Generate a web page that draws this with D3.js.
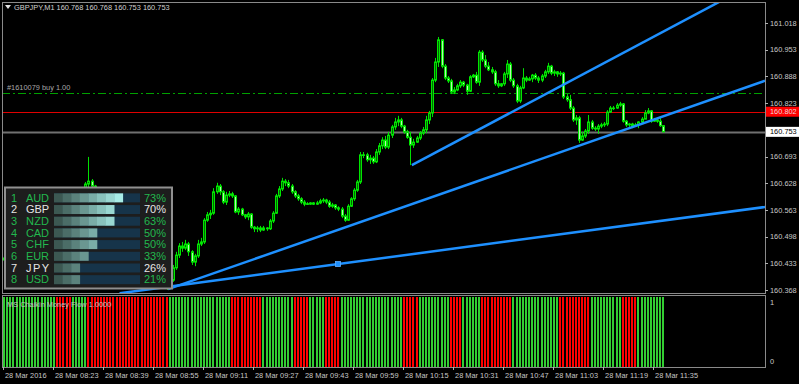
<!DOCTYPE html>
<html>
<head>
<meta charset="utf-8">
<script src="https://cdnjs.cloudflare.com/ajax/libs/d3/7.8.5/d3.min.js"></script>
<style>
  html, body { margin: 0; padding: 0; background: #000; overflow: hidden; }
  svg { display: block; }
  text { font-family: "Liberation Sans", Arial, sans-serif; }
</style>
</head>
<body>
<svg id="chart" width="799" height="384"></svg>
<script>
// ---- data (GBPJPY M1, 28 Mar 2016) ----
var open = [
  160.441,160.446,160.453,160.461,160.456,160.468,160.475,160.470,160.482,160.490,
  160.497,160.492,160.507,160.517,160.512,160.524,160.534,160.543,160.534,160.521,
  160.529,160.517,160.524,160.541,160.558,160.575,160.592,160.626,160.633,160.621,
  160.597,160.580,160.587,160.568,160.553,160.560,160.541,160.524,160.531,160.512,
  160.497,160.504,160.485,160.468,160.475,160.456,160.441,160.448,160.429,160.412,
  160.419,160.397,160.383,160.375,160.392,160.422,160.453,160.475,160.470,160.480,
  160.461,160.436,160.451,160.480,160.485,160.538,160.551,160.555,160.607,160.621,
  160.607,160.582,160.599,160.602,160.597,160.558,160.565,160.551,160.546,160.553,
  160.521,160.517,160.519,160.514,160.519,160.517,160.536,160.555,160.597,160.614,
  160.633,160.629,160.621,160.607,160.597,160.590,160.582,160.578,160.577,160.580,
  160.577,160.580,160.585,160.587,160.582,160.572,160.575,160.568,160.565,160.548,
  160.538,160.572,160.590,160.611,160.631,160.697,160.697,160.685,160.689,160.680,
  160.704,160.719,160.733,160.716,160.745,160.765,160.777,160.782,160.767,160.753,
  160.740,160.721,160.728,160.738,160.750,160.758,160.782,160.799,160.879,160.923,
  160.977,160.913,160.884,160.877,160.850,160.855,160.865,160.874,160.867,160.852,
  160.887,160.891,160.874,160.947,160.928,160.913,160.904,160.899,160.870,160.865,
  160.870,160.894,160.918,160.879,160.865,160.828,160.860,160.884,160.879,160.882,
  160.891,160.884,160.879,160.889,160.899,160.913,160.896,160.899,160.894,160.896,
  160.838,160.831,160.811,160.782,160.787,160.733,160.743,160.755,160.777,160.762,
  160.760,160.767,160.770,160.772,160.801,160.811,160.811,160.818,160.821,160.779,
  160.770,160.772,160.767,160.770,160.777,160.784,160.799,160.804,160.779,160.782,
  160.779,160.768
];
var high = [
  160.453,160.456,160.465,160.465,160.473,160.480,160.480,160.487,160.495,160.502,
  160.502,160.512,160.521,160.521,160.529,160.538,160.548,160.548,160.538,160.534,
  160.534,160.529,160.546,160.563,160.580,160.597,160.631,160.692,160.638,160.624,
  160.602,160.592,160.590,160.572,160.565,160.563,160.546,160.536,160.534,160.517,
  160.509,160.507,160.490,160.480,160.478,160.461,160.453,160.451,160.434,160.424,
  160.422,160.402,160.388,160.397,160.429,160.461,160.482,160.485,160.490,160.485,
  160.465,160.456,160.490,160.495,160.543,160.558,160.563,160.616,160.629,160.626,
  160.611,160.607,160.609,160.607,160.599,160.570,160.568,160.553,160.558,160.555,
  160.524,160.524,160.524,160.524,160.521,160.541,160.560,160.602,160.621,160.641,
  160.638,160.636,160.626,160.611,160.602,160.594,160.587,160.582,160.582,160.582,
  160.585,160.590,160.592,160.590,160.587,160.580,160.577,160.572,160.570,160.553,
  160.577,160.594,160.616,160.636,160.704,160.704,160.702,160.697,160.694,160.711,
  160.726,160.740,160.743,160.753,160.770,160.787,160.792,160.787,160.770,160.758,
  160.753,160.736,160.743,160.755,160.765,160.792,160.804,160.884,160.933,160.984,
  160.979,160.918,160.889,160.882,160.862,160.870,160.879,160.877,160.870,160.891,
  160.894,160.899,160.952,160.952,160.940,160.923,160.911,160.904,160.879,160.872,
  160.899,160.928,160.923,160.884,160.870,160.865,160.908,160.889,160.887,160.894,
  160.896,160.889,160.894,160.904,160.921,160.916,160.904,160.901,160.901,160.899,
  160.845,160.843,160.816,160.794,160.792,160.753,160.760,160.794,160.782,160.767,
  160.772,160.775,160.777,160.806,160.816,160.816,160.823,160.826,160.823,160.782,
  160.775,160.775,160.775,160.779,160.789,160.806,160.811,160.806,160.787,160.787,
  160.787,160.768
];
var low = [
  160.436,160.441,160.448,160.451,160.453,160.463,160.465,160.468,160.478,160.485,
  160.487,160.490,160.502,160.507,160.509,160.519,160.529,160.529,160.517,160.519,
  160.512,160.512,160.521,160.538,160.555,160.570,160.590,160.616,160.607,160.592,
  160.577,160.575,160.563,160.548,160.551,160.536,160.519,160.521,160.507,160.492,
  160.495,160.480,160.463,160.465,160.451,160.436,160.439,160.424,160.407,160.409,
  160.392,160.378,160.368,160.371,160.388,160.417,160.446,160.461,160.465,160.451,
  160.429,160.426,160.446,160.475,160.480,160.534,160.541,160.551,160.602,160.599,
  160.577,160.575,160.594,160.592,160.555,160.551,160.548,160.541,160.538,160.517,
  160.509,160.509,160.509,160.512,160.512,160.514,160.531,160.553,160.592,160.609,
  160.621,160.616,160.602,160.592,160.585,160.577,160.572,160.575,160.575,160.575,
  160.575,160.577,160.580,160.577,160.568,160.568,160.563,160.560,160.543,160.534,
  160.536,160.570,160.585,160.607,160.626,160.689,160.680,160.675,160.675,160.677,
  160.697,160.711,160.711,160.711,160.738,160.758,160.767,160.762,160.748,160.736,
  160.672,160.714,160.726,160.733,160.745,160.750,160.772,160.789,160.874,160.911,
  160.908,160.879,160.872,160.845,160.845,160.852,160.860,160.862,160.843,160.850,
  160.884,160.870,160.865,160.923,160.908,160.901,160.894,160.865,160.860,160.862,
  160.865,160.884,160.874,160.860,160.823,160.823,160.857,160.874,160.877,160.874,
  160.879,160.872,160.874,160.884,160.894,160.891,160.889,160.887,160.889,160.833,
  160.826,160.806,160.777,160.770,160.726,160.731,160.738,160.748,160.758,160.755,
  160.748,160.762,160.765,160.767,160.799,160.806,160.809,160.814,160.775,160.765,
  160.765,160.762,160.765,160.762,160.772,160.784,160.796,160.775,160.777,160.775,
  160.765,160.753
];
var close = [
  160.446,160.453,160.461,160.456,160.468,160.475,160.470,160.482,160.490,160.497,
  160.492,160.507,160.517,160.512,160.524,160.534,160.543,160.534,160.521,160.529,
  160.517,160.524,160.541,160.558,160.575,160.592,160.626,160.633,160.621,160.597,
  160.580,160.587,160.568,160.553,160.560,160.541,160.524,160.531,160.512,160.497,
  160.504,160.485,160.468,160.475,160.456,160.441,160.448,160.429,160.412,160.419,
  160.397,160.383,160.375,160.392,160.422,160.453,160.475,160.470,160.480,160.461,
  160.436,160.451,160.480,160.485,160.538,160.551,160.555,160.607,160.621,160.607,
  160.582,160.599,160.602,160.597,160.558,160.565,160.551,160.546,160.553,160.521,
  160.517,160.519,160.514,160.519,160.517,160.536,160.555,160.597,160.614,160.633,
  160.629,160.621,160.607,160.597,160.590,160.582,160.577,160.577,160.580,160.577,
  160.580,160.585,160.587,160.582,160.572,160.575,160.568,160.565,160.548,160.538,
  160.572,160.590,160.611,160.631,160.697,160.696,160.685,160.689,160.680,160.704,
  160.719,160.733,160.716,160.745,160.765,160.777,160.782,160.767,160.753,160.740,
  160.721,160.728,160.738,160.750,160.758,160.782,160.799,160.879,160.923,160.977,
  160.913,160.884,160.877,160.850,160.855,160.865,160.874,160.867,160.852,160.887,
  160.891,160.874,160.947,160.928,160.913,160.904,160.899,160.870,160.865,160.870,
  160.894,160.918,160.879,160.865,160.828,160.860,160.884,160.879,160.882,160.891,
  160.884,160.879,160.889,160.899,160.913,160.896,160.899,160.894,160.896,160.838,
  160.831,160.811,160.782,160.787,160.733,160.743,160.755,160.777,160.762,160.760,
  160.767,160.770,160.772,160.801,160.811,160.810,160.818,160.821,160.779,160.770,
  160.772,160.767,160.770,160.777,160.784,160.799,160.804,160.779,160.782,160.779,
  160.768,160.753
];

// Chaikin money flow histogram: run lengths of alternating sign, first run positive
var cmfRuns = [17, 5, 5, 26, 20, 10, 10, 5, 5, 5, 20, 5, 10, 4, 6, 10, 15, 10, 10, 5, 9];

var priceTicks = [161.018, 160.953, 160.888, 160.823, 160.693, 160.628, 160.563, 160.498, 160.433, 160.368];
var timeLabels = ["28 Mar 2016", "28 Mar 08:23", "28 Mar 08:39", "28 Mar 08:55", "28 Mar 09:11",
                  "28 Mar 09:27", "28 Mar 09:43", "28 Mar 09:59", "28 Mar 10:15", "28 Mar 10:31",
                  "28 Mar 10:47", "28 Mar 11:03", "28 Mar 11:19", "28 Mar 11:35"];
var timeLabelBars = [0, 16, 32, 48, 64, 80, 96, 112, 128, 144, 160, 176, 192, 208];

var buyLevel = 160.848, buyText = "#1610079 buy 1.00";
var redLevel = 160.802;
var bidLevel = 160.753;

// trend lines (bar index, price), extended to the right as rays
var trendLines = [
  {b1: 130.5, p1: 160.672, b2: 180, p2: 160.872},
  {b1: 52.5, p1: 160.370, b2: 211, p2: 160.791},
  {b1: 37, p1: 160.360, b2: 211, p2: 160.537}
];
var trendMarker = {line: 2, bar: 106.9};

var currencies = ["AUD", "GBP", "NZD", "CAD", "CHF", "EUR", "JPY", "USD"];
var strength = [73, 70, 63, 50, 50, 33, 26, 21];
var pairCurrencies = ["GBP", "JPY"];

// ---- layout ----
var W = 799, H = 384;
var left = 2, right = 765, mainTop = 2, mainBottom = 293, indTop = 295, indBottom = 367;

var svg = d3.select("#chart");
svg.append("rect").attr("width", W).attr("height", H).attr("fill", "#000");

var x = d3.scaleLinear().domain([0, 211]).range([4, 663.4]);
var y = d3.scaleLinear().domain([160.3607, 161.0667]).range([mainBottom, 3]);
var yInd = d3.scaleLinear().domain([0, 1]).range([indBottom, 297]);

var defs = svg.append("defs");
defs.append("clipPath").attr("id", "clipMain").append("rect")
  .attr("x", left).attr("y", mainTop).attr("width", right - left).attr("height", mainBottom - mainTop);

var bars = open.map(function (o, i) {
  return {i: i, o: o, h: high[i], l: low[i], c: close[i]};
});

// ---- indicator histogram ----
var cmf = [];
cmfRuns.forEach(function (len, k) {
  for (var j = 0; j < len; j++) cmf.push(k % 2 === 0 ? 1 : -1);
});
svg.append("g").selectAll("rect").data(cmf).join("rect")
  .attr("x", function (d, i) { return Math.round(x(i)) - 1; })
  .attr("y", yInd(1))
  .attr("width", 2)
  .attr("height", yInd(0) - yInd(1))
  .attr("fill", function (d) { return d > 0 ? "#32cd32" : "#ff0000"; });

// ---- candles ----
var cg = svg.append("g").attr("clip-path", "url(#clipMain)");

// horizontal levels
cg.append("line").attr("x1", left).attr("x2", right)
  .attr("y1", Math.round(y(bidLevel)) + 0.5).attr("y2", Math.round(y(bidLevel)) + 0.5)
  .attr("stroke", "#707070").attr("stroke-width", 2);
cg.append("line").attr("x1", left).attr("x2", right)
  .attr("y1", Math.round(y(redLevel)) + 0.5).attr("y2", Math.round(y(redLevel)) + 0.5)
  .attr("stroke", "#e00000").attr("stroke-width", 1);
cg.append("line").attr("x1", left).attr("x2", right)
  .attr("y1", Math.round(y(buyLevel)) + 0.5).attr("y2", Math.round(y(buyLevel)) + 0.5)
  .attr("stroke", "#00a000").attr("stroke-width", 1)
  .attr("stroke-dasharray", "8,3,2,3");

cg.selectAll(".wick").data(bars).join("line")
  .attr("class", "wick")
  .attr("x1", function (d) { return Math.round(x(d.i)) + 0.5; })
  .attr("x2", function (d) { return Math.round(x(d.i)) + 0.5; })
  .attr("y1", function (d) { return y(d.h); })
  .attr("y2", function (d) { return y(d.l); })
  .attr("stroke", "#00e000").attr("stroke-width", 1);

cg.selectAll(".body").data(bars).join("rect")
  .attr("class", "body")
  .attr("x", function (d) { return Math.round(x(d.i)) - 0.5; })
  .attr("y", function (d) { return Math.min(y(d.o), y(d.c)); })
  .attr("width", 2)
  .attr("height", function (d) { return Math.max(Math.abs(y(d.o) - y(d.c)), 0.6); })
  .attr("fill", function (d) { return d.c >= d.o ? "#006a00" : "#b8f5b0"; })
  .attr("stroke", "#00e600").attr("stroke-width", 1);

// trend lines
trendLines.forEach(function (t) {
  var x1 = x(t.b1), y1 = y(t.p1), x2 = x(t.b2), y2 = y(t.p2);
  var slope = (y2 - y1) / (x2 - x1);
  cg.append("line")
    .attr("x1", x1).attr("y1", y1)
    .attr("x2", right).attr("y2", y1 + slope * (right - x1))
    .attr("stroke", "#1e90ff").attr("stroke-width", 2.5);
});
(function () {
  var t = trendLines[trendMarker.line];
  var p = t.p1 + (t.p2 - t.p1) * (trendMarker.bar - t.b1) / (t.b2 - t.b1);
  cg.append("rect")
    .attr("x", x(trendMarker.bar) - 2.5).attr("y", y(p) - 2.5)
    .attr("width", 5).attr("height", 5)
    .attr("fill", "#1e90ff").attr("stroke", "#5fb0ff").attr("stroke-width", 0.8);
})();

// ---- frames ----
var frame = svg.append("g").attr("stroke", "#8a8a8a").attr("stroke-width", 1).attr("fill", "none");
frame.append("rect").attr("x", left + 0.5).attr("y", mainTop + 0.5)
  .attr("width", right - left).attr("height", mainBottom - mainTop);
frame.append("rect").attr("x", left + 0.5).attr("y", indTop + 0.5)
  .attr("width", right - left).attr("height", indBottom - indTop);

// ---- price axis ----
var axisG = svg.append("g");
axisG.selectAll("line").data(priceTicks).join("line")
  .attr("x1", right).attr("x2", right + 3)
  .attr("y1", function (d) { return Math.round(y(d)) + 0.5; })
  .attr("y2", function (d) { return Math.round(y(d)) + 0.5; })
  .attr("stroke", "#b0b0b0");
axisG.selectAll("text").data(priceTicks).join("text")
  .attr("x", 770).attr("y", function (d) { return y(d) + 2.6; })
  .attr("font-size", "7.4px").attr("fill", "#c8c8c8")
  .text(function (d) { return d.toFixed(3); });

function priceBox(level, bg, fg) {
  var cy = y(level);
  svg.append("rect").attr("x", 766).attr("y", cy - 5).attr("width", 33).attr("height", 10).attr("fill", bg);
  svg.append("text").attr("x", 770).attr("y", cy + 2.6)
    .attr("font-size", "7.4px").attr("fill", fg).text(level.toFixed(3));
}
priceBox(redLevel, "#ff0000", "#f0d8d8");
priceBox(bidLevel, "#ffffff", "#000000");

// indicator scale labels
svg.append("text").attr("x", 770).attr("y", yInd(1) + 7.5)
  .attr("font-size", "7.4px").attr("fill", "#c8c8c8").text("1");
svg.append("text").attr("x", 770).attr("y", yInd(0) - 3)
  .attr("font-size", "7.4px").attr("fill", "#c8c8c8").text("0");

// ---- time axis ----
var tg = svg.append("g");
tg.selectAll("line").data(timeLabelBars).join("line")
  .attr("x1", function (d) { return Math.round(x(d)) - 0.5; })
  .attr("x2", function (d) { return Math.round(x(d)) - 0.5; })
  .attr("y1", indBottom).attr("y2", indBottom + 3)
  .attr("stroke", "#b0b0b0");
tg.selectAll("text").data(timeLabelBars).join("text")
  .attr("x", function (d) { return x(d) + 1; })
  .attr("y", 378)
  .attr("font-size", "7.4px").attr("fill", "#c8c8c8")
  .text(function (d, i) { return timeLabels[i]; });

// ---- chart labels ----
svg.append("path").attr("d", "M5,5 L11,5 L8,9 Z").attr("fill", "#e0e0e0");
svg.append("text").attr("x", 14).attr("y", 10).attr("font-size", "7.4px").attr("fill", "#d0d0d0")
  .text("GBPJPY,M1  " + [open[211], high[211], low[211], close[211]].map(function (v) { return v.toFixed(3); }).join(" "));
svg.append("text").attr("x", 7).attr("y", y(buyLevel) - 3).attr("font-size", "7.4px").attr("fill", "#a8a8a8")
  .text(buyText);
svg.append("text").attr("x", 7).attr("y", 307).attr("font-size", "7.4px").attr("fill", "#c0c0c0")
  .text("MS Chaikin Money Flow 1.0000");

// ---- currency strength panel ----
var lg = svg.append("g");
lg.append("rect").attr("x", 5).attr("y", 187.5).attr("width", 167).attr("height", 101)
  .attr("fill", "#1d1d1d").attr("stroke", "#909090").attr("stroke-width", 2);

var row = d3.scaleBand().domain(currencies).range([192, 285.5]);
var barX = d3.scaleLinear().domain([0, 100]).range([54, 140]);
var blockColor = d3.interpolateRgb("#3c5852", "#a8ece6");
var green = "#22b84e", white = "#e6e6e6";
var mono = "'Liberation Mono', 'DejaVu Sans Mono', monospace";

currencies.forEach(function (c, k) {
  var cy = row(c) + row.bandwidth() / 2;
  var col = pairCurrencies.indexOf(c) >= 0 ? white : green;
  lg.append("rect").attr("x", barX(0)).attr("y", cy - 4.5).attr("width", barX(100) - barX(0)).attr("height", 9)
    .attr("fill", "#16344a");
  var blocks = Math.ceil(strength[k] / 10);
  for (var b = 0; b < blocks; b++) {
    lg.append("rect").attr("x", barX(b * 10)).attr("y", cy - 4.5)
      .attr("width", barX(10) - barX(0) + 0.3).attr("height", 9)
      .attr("fill", blockColor(b / 7));
  }
  lg.append("text").attr("x", 11).attr("y", cy + 3.8).attr("font-family", mono)
    .attr("font-size", "11px").attr("fill", col).text(k + 1);
  lg.append("text").attr("x", 26).attr("y", cy + 3.8).attr("font-family", mono)
    .attr("font-size", "11px").attr("fill", col).attr("textLength", 23).text(c);
  lg.append("text").attr("x", 144).attr("y", cy + 3.8).attr("font-family", mono)
    .attr("font-size", "11px").attr("fill", col).attr("textLength", 22).text(strength[k] + "%");
});
</script>
</body>
</html>
